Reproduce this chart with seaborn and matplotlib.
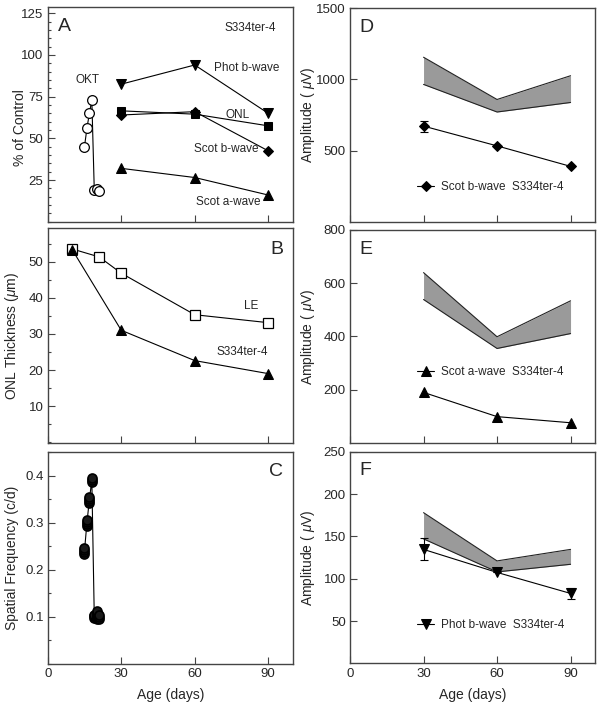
import matplotlib
matplotlib.use("Agg")
import matplotlib.pyplot as plt
import seaborn as sns
from matplotlib.ticker import FixedLocator, MultipleLocator

# 環境設定
sns.set_style("ticks")
plt.rcParams['font.family'] = ['Liberation Sans', 'DejaVu Sans']
plt.rcParams['mathtext.fontset'] = 'custom'
plt.rcParams['mathtext.rm'] = 'Liberation Sans'
plt.rcParams['mathtext.it'] = 'Liberation Sans:italic'

# ---------------------------------------------------------
# 資料
# A: % of control
okt_days = [15, 16, 17, 18, 19, 20, 21]
okt_pct = [45, 56, 65, 73, 19, 19.5, 18.5]
erg_days = [30, 60, 90]
phot_b_pct = [82.5, 94, 65]
onl_pct = [66.5, 64.5, 57.5]
scot_b_pct = [64, 66, 42.5]
scot_a_pct = [32, 26.5, 16]

# B: ONL thickness
le_days = [10, 21, 30, 60, 90]
le_onl = [53.5, 51.3, 46.8, 35.3, 33.1]
tg_days = [10, 30, 60, 90]
tg_onl = [53.3, 31.0, 22.6, 19.0]

# C: spatial frequency (several animals per day)
sf_days = [15, 15, 15, 15, 16, 16, 16, 16, 17, 17, 17, 17, 18, 18, 18,
           19, 19, 19, 20, 20, 20, 20, 20, 21, 21, 21]
sf_vals = [0.233, 0.238, 0.243, 0.246, 0.294, 0.298, 0.302, 0.305,
           0.343, 0.347, 0.351, 0.355, 0.387, 0.391, 0.395,
           0.097, 0.101, 0.105, 0.095, 0.100, 0.104, 0.108, 0.112,
           0.096, 0.100, 0.104]

# D: scotopic b-wave
scot_b_amp = [672, 533, 389]
scot_b_err = [38, 0, 0]
scot_b_ctrl_lo = [965, 771, 838]
scot_b_ctrl_hi = [1156, 859, 1026]

# E: scotopic a-wave
scot_a_amp = [190, 99, 76]
scot_a_ctrl_lo = [539, 355, 411]
scot_a_ctrl_hi = [640, 399, 534]

# F: photopic b-wave
phot_b_amp = [134.6, 107.4, 82.6]
phot_b_err = [13, 0, 6.5]
phot_b_ctrl_lo = [147, 108, 117]
phot_b_ctrl_hi = [178, 121, 134.6]

SPINE = '#444444'
LW = 0.8


# 共用座標軸樣式
def style_axes(ax, ylim, yticks, minor=None, xlabels=False):
    ax.set_xlim(0, 100)
    ax.set_ylim(*ylim)
    ax.xaxis.set_major_locator(FixedLocator([0, 30, 60, 90]))
    ax.yaxis.set_major_locator(FixedLocator(yticks))
    if minor:
        ax.yaxis.set_minor_locator(MultipleLocator(minor))
    ax.tick_params(which='both', direction='in', top=False, right=False,
                   labelsize=9.5, color=SPINE, width=0.8, pad=3)
    ax.tick_params(which='major', length=5)
    ax.tick_params(which='minor', length=2.5)
    for s in ax.spines.values():
        s.set_visible(True)
        s.set_color(SPINE)
        s.set_linewidth(1.0)
    if xlabels:
        ax.set_xlabel('Age (days)', fontsize=10, labelpad=6)
    else:
        ax.tick_params(labelbottom=False)
        ax.set_xlabel('')


def draw_band(ax, lo, hi):
    ax.fill_between(erg_days, lo, hi, color='#9a9a9a', linewidth=0)
    sns.lineplot(x=erg_days, y=lo, color='#222222', linewidth=LW, ax=ax)
    sns.lineplot(x=erg_days, y=hi, color='#222222', linewidth=LW, ax=ax)


fig = plt.figure(figsize=(6.01, 7.09), dpi=100)
ax_a = fig.add_axes([0.0794, 0.6873, 0.4077, 0.3024])
ax_b = fig.add_axes([0.0794, 0.3752, 0.4077, 0.3032])
ax_c = fig.add_axes([0.0794, 0.0635, 0.4077, 0.2994])
ax_d = fig.add_axes([0.5824, 0.6873, 0.4077, 0.3010])
ax_e = fig.add_axes([0.5824, 0.3752, 0.4077, 0.3004])
ax_f = fig.add_axes([0.5824, 0.0644, 0.4077, 0.2985])

mk = dict(color='black', linewidth=LW, markeredgecolor='black')

# ---------------------------------------------------------
# A
sns.lineplot(x=okt_days, y=okt_pct, marker='o', markersize=7,
             markerfacecolor='white', markeredgewidth=0.9, ax=ax_a, **mk)
sns.lineplot(x=erg_days, y=phot_b_pct, marker='v', markersize=7, ax=ax_a, **mk)
sns.lineplot(x=erg_days, y=onl_pct, marker='s', markersize=6, ax=ax_a, **mk)
sns.lineplot(x=erg_days, y=scot_b_pct, marker='D', markersize=5, ax=ax_a, **mk)
sns.lineplot(x=erg_days, y=scot_a_pct, marker='^', markersize=7, ax=ax_a, **mk)
style_axes(ax_a, (0, 128.6), [25, 50, 75, 100, 125], minor=5)
ax_a.set_ylabel('% of Control', fontsize=10)
ax_a.yaxis.set_label_coords(-0.085, 0.44)
ax_a.text(0.042, 0.91, 'A', transform=ax_a.transAxes, fontsize=14, va='center')
ax_a.text(72, 116, 'S334ter-4', fontsize=8.5, va='center')
ax_a.text(11.5, 85, 'OKT', fontsize=8.5, va='center')
ax_a.text(68, 92, 'Phot b-wave', fontsize=8.5, va='center')
ax_a.text(72.5, 64, 'ONL', fontsize=8.5, va='center')
ax_a.text(59.6, 43.4, 'Scot b-wave', fontsize=8.5, va='center')
ax_a.text(60.5, 12, 'Scot a-wave', fontsize=8.5, va='center')

# B
sns.lineplot(x=le_days, y=le_onl, marker='s', markersize=7,
             markerfacecolor='white', markeredgewidth=0.9, ax=ax_b, **mk)
sns.lineplot(x=tg_days, y=tg_onl, marker='^', markersize=7, ax=ax_b, **mk)
style_axes(ax_b, (-0.2, 59.3), [10, 20, 30, 40, 50], minor=5)
ax_b.set_ylabel(r'ONL Thickness ($\mathit{\mu}$m)', fontsize=10)
ax_b.yaxis.set_label_coords(-0.111, 0.5)
ax_b.text(0.96, 0.898, 'B', transform=ax_b.transAxes, fontsize=14,
          va='center', ha='right')
ax_b.text(80, 37.8, 'LE', fontsize=8.5, va='center')
ax_b.text(68.7, 25.1, 'S334ter-4', fontsize=8.5, va='center')

# C
sns.lineplot(x=sf_days, y=sf_vals, estimator='mean', errorbar=None,
             color='black', linewidth=LW, ax=ax_c)
sns.scatterplot(x=sf_days, y=sf_vals, marker='o', s=42, color='#1a1a1a',
                edgecolor='black', linewidth=1.2, ax=ax_c, zorder=3)
style_axes(ax_c, (0, 0.451), [0.1, 0.2, 0.3, 0.4], minor=0.05, xlabels=True)
ax_c.set_ylabel('Spatial Frequency (c/d)', fontsize=10)
ax_c.yaxis.set_label_coords(-0.117, 0.5)
ax_c.text(0.96, 0.907, 'C', transform=ax_c.transAxes, fontsize=14,
          va='center', ha='right')

# D
draw_band(ax_d, scot_b_ctrl_lo, scot_b_ctrl_hi)
ax_d.errorbar(erg_days, scot_b_amp, yerr=scot_b_err, fmt='none',
              ecolor='black', elinewidth=LW, capsize=3, capthick=LW)
sns.lineplot(x=erg_days, y=scot_b_amp, marker='D', markersize=5,
             label='Scot b-wave  S334ter-4', ax=ax_d, **mk)
style_axes(ax_d, (0, 1500), [500, 1000, 1500])

# E
draw_band(ax_e, scot_a_ctrl_lo, scot_a_ctrl_hi)
sns.lineplot(x=erg_days, y=scot_a_amp, marker='^', markersize=7,
             label='Scot a-wave  S334ter-4', ax=ax_e, **mk)
style_axes(ax_e, (0, 800), [200, 400, 600, 800])

# F
draw_band(ax_f, phot_b_ctrl_lo, phot_b_ctrl_hi)
ax_f.errorbar(erg_days, phot_b_amp, yerr=phot_b_err, fmt='none',
              ecolor='black', elinewidth=LW, capsize=3, capthick=LW)
sns.lineplot(x=erg_days, y=phot_b_amp, marker='v', markersize=7,
             label='Phot b-wave  S334ter-4', ax=ax_f, **mk)
style_axes(ax_f, (0, 250), [50, 100, 150, 200, 250], xlabels=True)

legend_pos = {ax_d: 0.163, ax_e: 0.335, ax_f: 0.181}
for ax, letter in [(ax_d, 'D'), (ax_e, 'E'), (ax_f, 'F')]:
    ax.set_ylabel(r'Amplitude ( $\mathit{\mu}$V)', fontsize=10)
    ax.yaxis.set_label_coords(-0.135, 0.5)
    ax.text(0.04, 0.91, letter, transform=ax.transAxes, fontsize=14, va='center')
    ax.legend(loc='center left', bbox_to_anchor=(0.275, legend_pos[ax]),
              frameon=False, fontsize=8.5, handlelength=1.4,
              handletextpad=0.6, borderpad=0, borderaxespad=0)

fig.savefig('out.png', dpi=100)
